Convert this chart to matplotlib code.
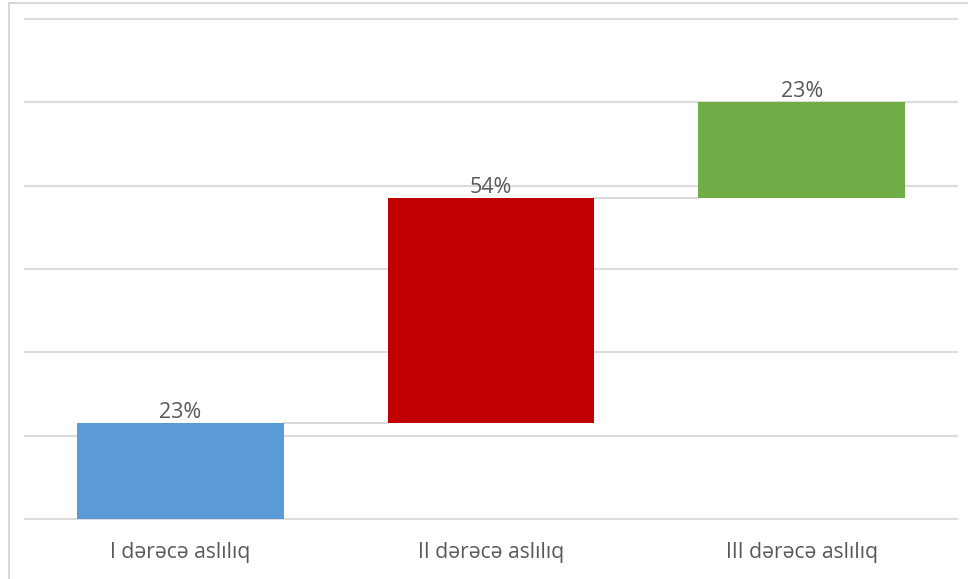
import matplotlib.pyplot as plt
from matplotlib.patches import Rectangle
import numpy as np

plt.rcParams['font.family'] = ['Open Sans', 'DejaVu Sans']

categories = ["I dərəcə aslılıq", "II dərəcə aslılıq", "III dərəcə aslılıq"]
values = [23, 54, 23]
colors = ["#5B9BD5", "#C00000", "#70AD47"]

fig = plt.figure(figsize=(9.68, 5.79), dpi=100)
ax = fig.add_axes([25 / 968, 1 - 519 / 579, 932 / 968, 500 / 579])

x = np.arange(len(categories))
tops = np.cumsum(values)
bottoms = tops - np.array(values)
width = 0.665

ax.bar(x, values, bottom=bottoms, width=width, color=colors, zorder=3)

# connectors between consecutive bars at the running total
for i in range(len(values) - 1):
    ax.plot([x[i] + width / 2, x[i + 1] - width / 2], [tops[i], tops[i]],
            color="#d9d9d9", lw=1.5, zorder=2)

for xi, top, v in zip(x, tops, values):
    ax.annotate(f"{v}%", (xi, top), xytext=(0, 4), textcoords="offset points",
                ha="center", va="baseline", fontsize=15.5, color="#595959")

ax.set_xlim(-0.5, len(categories) - 0.5)
ax.set_ylim(0, 120)
ax.set_yticks(np.arange(0, 121, 20))
ax.yaxis.grid(True, color="#dcdcdc", lw=1.5, zorder=0, clip_on=False)
ax.tick_params(axis="y", left=False, labelleft=False)
ax.tick_params(axis="x", bottom=False, labelsize=15.2, labelcolor="#595959", pad=13)
ax.set_xticks(x)
ax.set_xticklabels(categories)
for s in ax.spines.values():
    s.set_visible(False)

# chart area border
fig.patches.append(Rectangle((9 / 968, -0.1), 1.2, 1 - 3 / 579 + 0.1,
                             transform=fig.transFigure, fill=False,
                             edgecolor="#d9d9d9", lw=1.5))

fig.savefig("out.png", dpi=100)
